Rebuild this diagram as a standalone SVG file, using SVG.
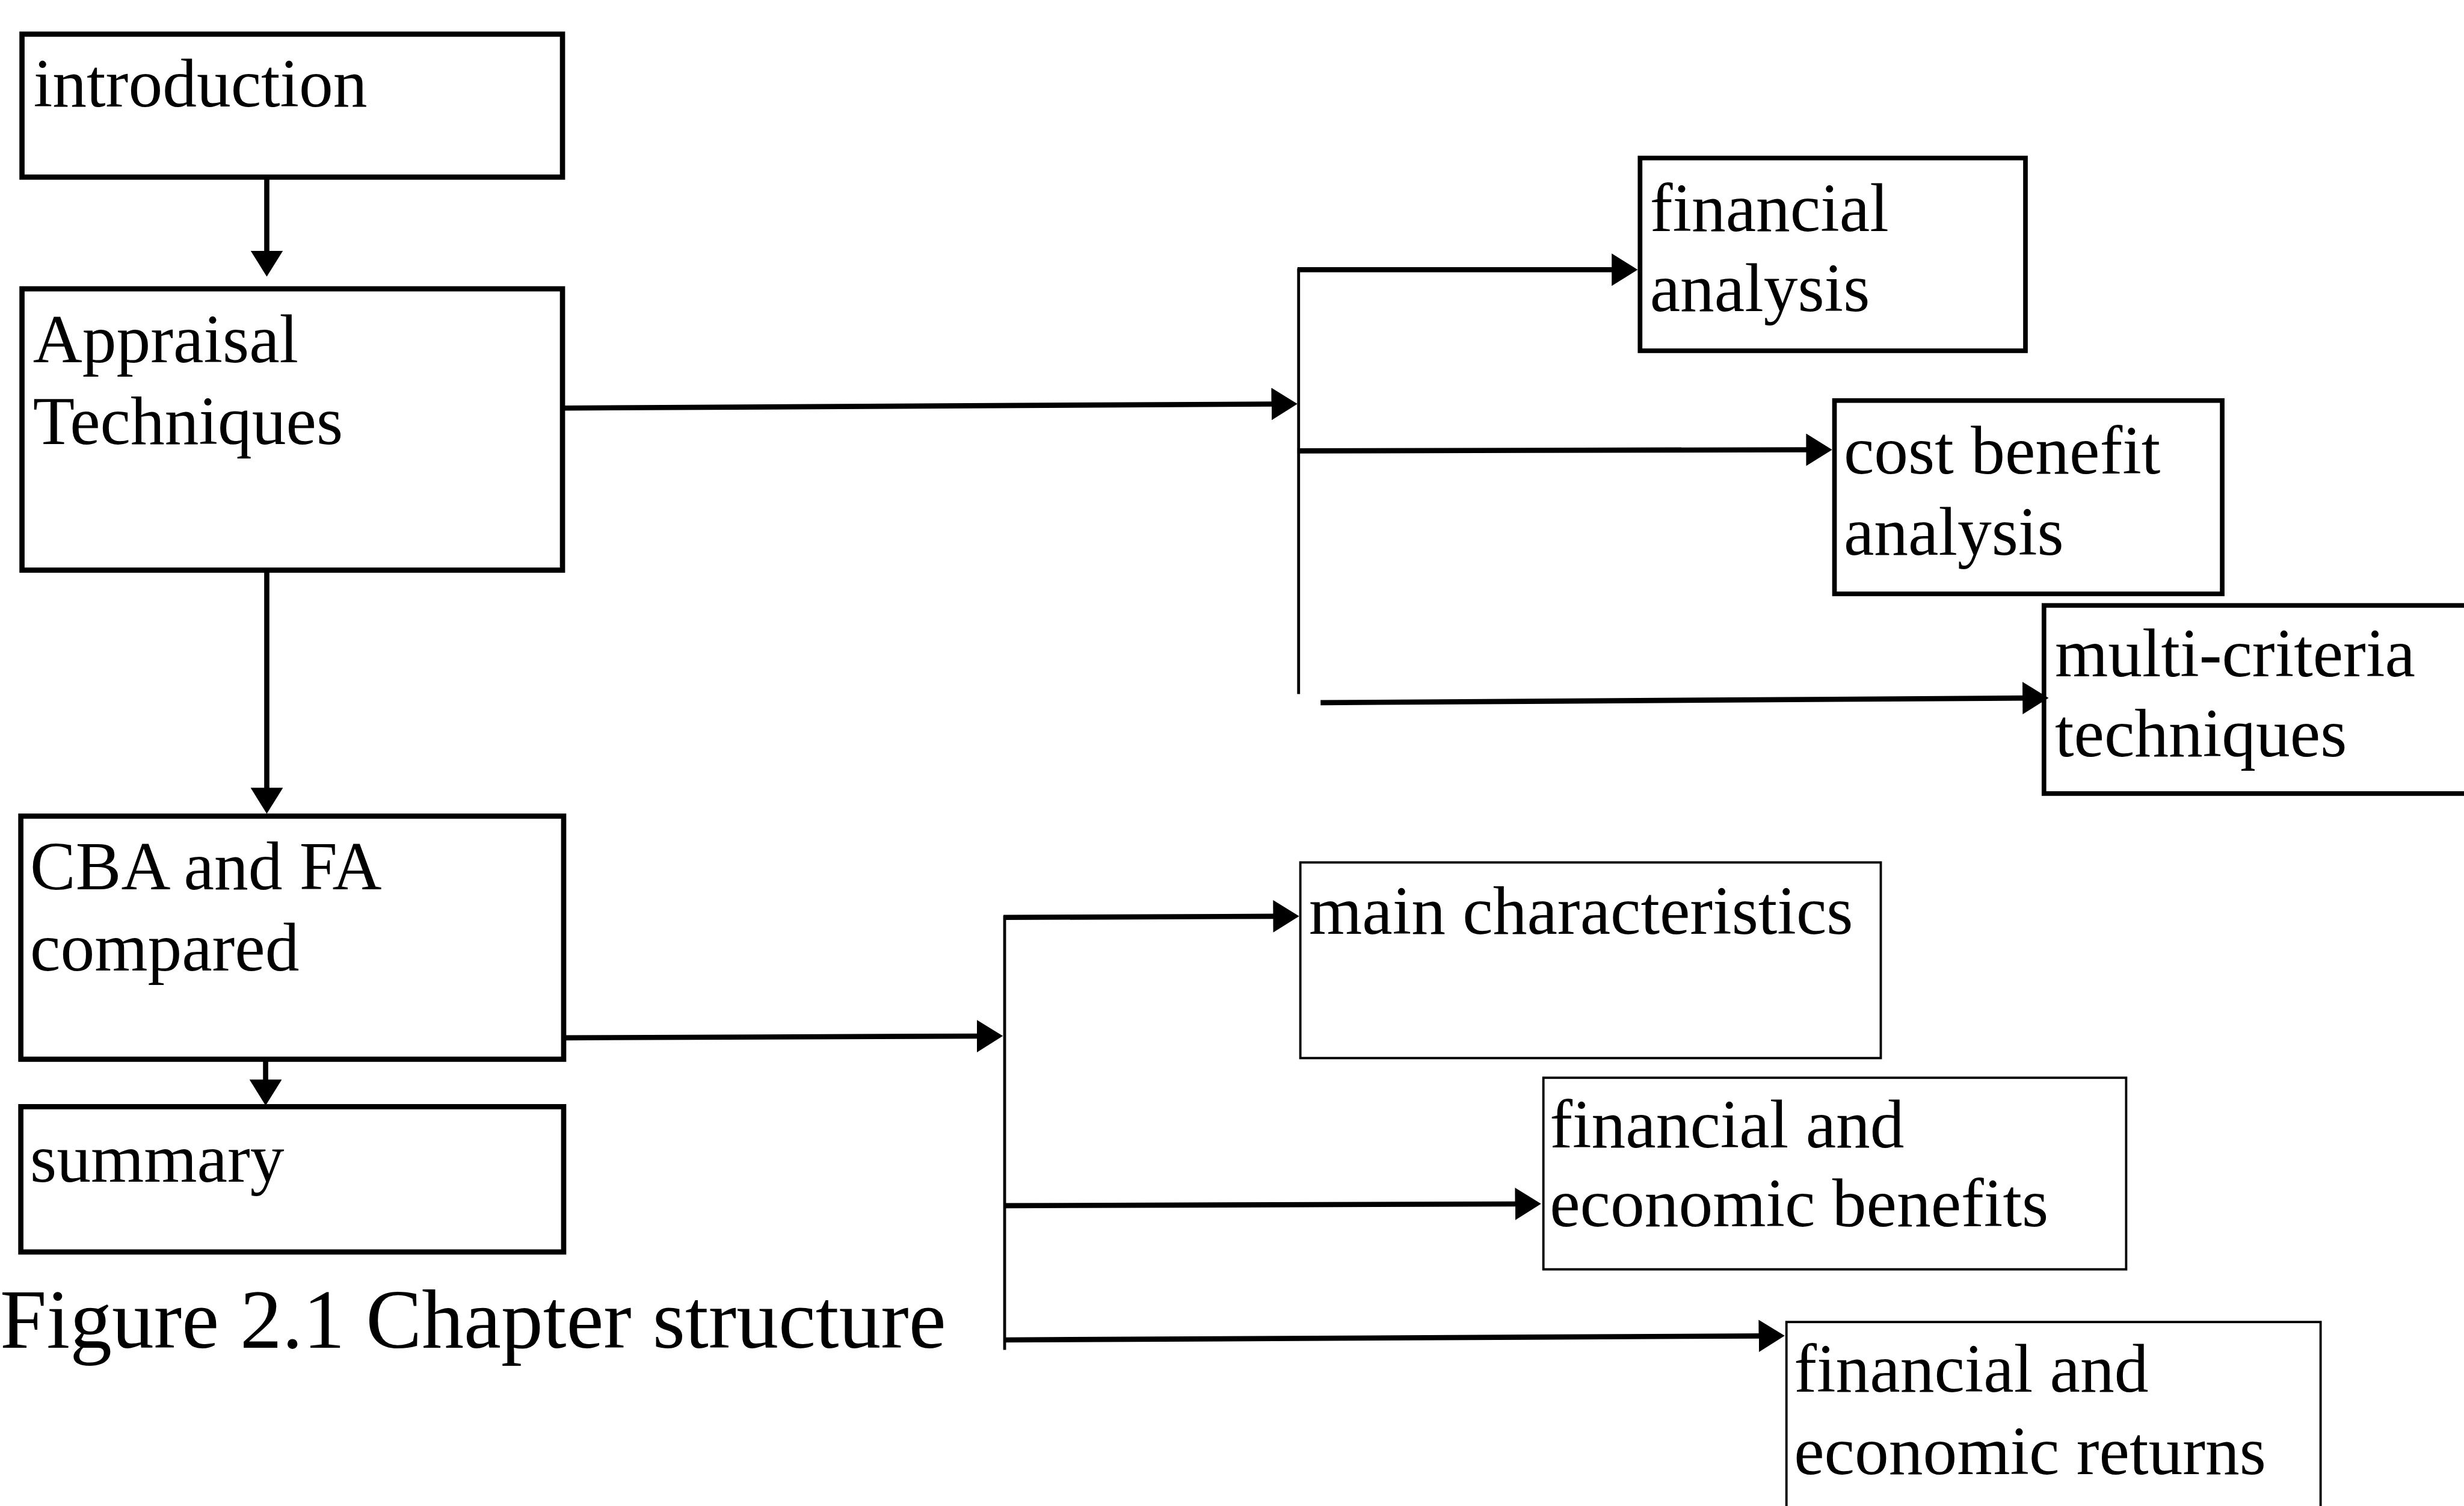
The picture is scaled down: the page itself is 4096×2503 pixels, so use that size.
<svg xmlns="http://www.w3.org/2000/svg" width="4096" height="2503" viewBox="0 0 4096 2503">
  <style>
    .box { fill: #ffffff; stroke: #000000; stroke-width: 9; }
    .box-mid { fill: #ffffff; stroke: #000000; stroke-width: 8; }
    .box-thin { fill: #ffffff; stroke: #000000; stroke-width: 4; }
    .lbl { font-family: "Liberation Serif", "Times New Roman", serif; font-size: 118px; fill: #000000; }
    .cap { font-family: "Liberation Serif", "Times New Roman", serif; font-size: 145px; fill: #000000; }
    .conn { stroke: #000000; stroke-width: 9; fill: none; marker-end: url(#arrow); }
    .trunk { stroke: #000000; stroke-width: 5; fill: none; }
    .branch { stroke: #000000; stroke-width: 9; fill: none; }
  </style>
  <defs>
    <marker id="arrow" markerUnits="userSpaceOnUse" markerWidth="46" markerHeight="56" refX="5" refY="28" orient="auto">
      <path d="M0,0 L45,28 L0,56 z" fill="#000000"/>
    </marker>
  </defs>
  <rect width="4096" height="2503" fill="#ffffff"/>
  <g transform="scale(0.962)">
    <!-- chapter sequence on the left -->
    <g id="introduction">
      <rect class="box" x="38" y="59" width="934" height="247"/>
      <text class="lbl" x="58" y="184">introduction</text>
    </g>
    <g id="appraisal-techniques">
      <rect class="box" x="38" y="499" width="934" height="486"/>
      <text class="lbl" x="57" y="626">Appraisal</text>
      <text class="lbl" x="57" y="767">Techniques</text>
    </g>
    <g id="cba-fa-compared">
      <rect class="box" x="36" y="1410" width="938" height="420"/>
      <text class="lbl" x="52" y="1536">CBA and FA</text>
      <text class="lbl" x="52" y="1677">compared</text>
    </g>
    <g id="summary">
      <rect class="box" x="36" y="1912" width="938" height="251"/>
      <text class="lbl" x="52" y="2042">summary</text>
    </g>

    <!-- appraisal techniques branches -->
    <g id="financial-analysis">
      <rect class="box-mid" x="2834" y="273" width="666" height="333"/>
      <text class="lbl" x="2851" y="399">financial</text>
      <text class="lbl" x="2851" y="537">analysis</text>
    </g>
    <g id="cost-benefit-analysis">
      <rect class="box-mid" x="3170" y="692" width="670" height="334"/>
      <text class="lbl" x="3186" y="818">cost benefit</text>
      <text class="lbl" x="3186" y="958">analysis</text>
    </g>
    <g id="multi-criteria-techniques">
      <rect class="box-mid" x="3532" y="1046" width="800" height="325"/>
      <text class="lbl" x="3551" y="1168">multi-criteria</text>
      <text class="lbl" x="3551" y="1307">techniques</text>
    </g>

    <!-- comparison branches -->
    <g id="main-characteristics">
      <rect class="box-thin" x="2247" y="1490" width="1003" height="338"/>
      <text class="lbl" x="2262" y="1613">main characteristics</text>
    </g>
    <g id="financial-economic-benefits">
      <rect class="box-thin" x="2667" y="1862" width="1007" height="331"/>
      <text class="lbl" x="2678" y="1982">financial and</text>
      <text class="lbl" x="2678" y="2119">economic benefits</text>
    </g>
    <g id="financial-economic-returns">
      <rect class="box-thin" x="3087" y="2284" width="923" height="400"/>
      <text class="lbl" x="3100" y="2404">financial and</text>
      <text class="lbl" x="3100" y="2547">economic returns</text>
    </g>

    <text id="caption" class="cap" x="0" y="2328">Figure 2.1 Chapter structure</text>

    <g id="connectors">
      <line class="conn" x1="461" y1="306" x2="461" y2="438"/>
      <line class="conn" x1="461" y1="985" x2="461" y2="1366"/>
      <line class="conn" x1="459" y1="1830" x2="459" y2="1870"/>

      <line class="conn" x1="976" y1="705" x2="2202" y2="698"/>
      <line class="trunk" x1="2244" y1="464" x2="2244" y2="1199"/>
      <line class="conn" x1="2242" y1="466" x2="2790" y2="466"/>
      <line class="conn" x1="2242" y1="779" x2="3126" y2="777"/>
      <line class="conn" x1="2282" y1="1214" x2="3500" y2="1206"/>

      <line class="conn" x1="976" y1="1793" x2="1693" y2="1790"/>
      <line class="trunk" x1="1736" y1="1582" x2="1736" y2="2332"/>
      <line class="conn" x1="1734" y1="1585" x2="2205" y2="1583"/>
      <line class="conn" x1="1734" y1="2083" x2="2623" y2="2080"/>
      <line class="conn" x1="1734" y1="2315" x2="3044" y2="2308"/>
    </g>
  </g>
</svg>
